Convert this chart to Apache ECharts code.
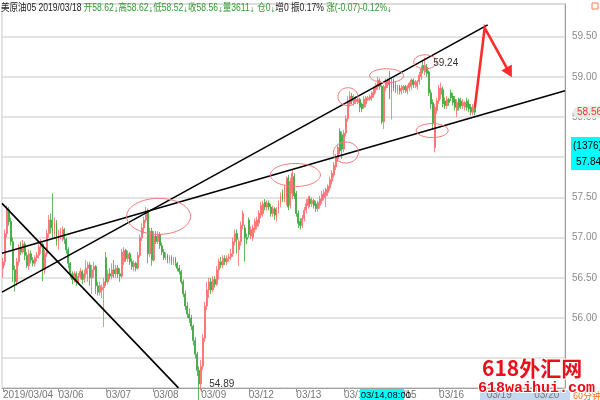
<!DOCTYPE html>
<html><head><meta charset="utf-8">
<script src="https://cdn.jsdelivr.net/npm/echarts@6/dist/echarts.min.js"></script>
<style>html,body{margin:0;padding:0;background:#fff}#c{width:600px;height:400px}</style>
</head><body><div id="c"></div><script>
// ---- data ----
const days = ['2019/03/04','03/05','03/06','03/07','03/08','03/09','03/12','03/13','03/14','03/15','03/16','03/19','03/20'];
const barsPerDay = [4,24,24,24,24,24,24,24,24,24,24,24,16];
const priceLabels = ['56.00','56.50','57.00','57.50','58.00','58.50','59.00','59.50'];
// [open, close, low, high] per 60-minute bar
const candles = [
[56.62,56.70,56.50,56.75],[56.70,57.05,56.65,57.10],[57.05,57.35,57.00,57.40],[57.35,57.20,57.15,57.38],
[57.20,56.95,56.90,57.25],[56.95,56.60,56.45,57.00],[56.60,56.45,56.33,56.65],[56.45,56.70,56.40,56.75],
[56.70,56.88,56.65,56.92],[56.88,56.82,56.78,56.95],[56.82,56.92,56.80,56.97],[56.92,56.78,56.72,56.95],
[56.78,56.65,56.62,56.82],[56.65,56.80,56.60,56.85],[56.80,56.72,56.68,56.84],[56.72,56.68,56.64,56.76],
[56.68,56.75,56.64,56.78],[56.75,56.78,56.70,56.82],[56.78,56.88,56.74,56.92],[56.88,56.92,56.80,56.98],
[56.92,56.60,56.46,56.94],[56.60,56.80,56.55,56.85],[56.80,57.05,56.76,57.10],[57.05,57.22,57.00,57.28],
[57.22,57.12,57.05,57.30],[57.12,57.05,56.98,57.55],[57.05,57.18,57.00,57.25],[57.18,56.95,56.90,57.22],
[56.95,57.05,56.85,57.10],[57.05,57.08,56.98,57.12],[57.00,57.10,56.95,57.14],[57.10,56.98,56.92,57.12],
[56.98,56.85,56.80,57.00],[56.85,56.68,56.62,56.88],[56.68,56.55,56.50,56.70],[56.55,56.48,56.42,56.58],
[56.48,56.55,56.44,56.58],[56.55,56.45,56.40,56.58],[56.45,56.52,56.42,56.56],[56.52,56.58,56.48,56.62],
[56.58,56.48,56.42,56.60],[56.48,56.55,56.44,56.60],[56.55,56.62,56.50,56.72],[56.62,56.66,56.45,56.70],
[56.66,56.50,56.40,56.70],[56.50,56.60,56.30,56.66],[56.60,56.64,56.50,56.70],[56.64,56.40,56.30,56.66],
[56.40,56.32,56.28,56.45],[56.32,56.40,56.28,56.45],[56.35,56.38,56.25,56.42],[56.38,56.45,55.89,56.50],
[56.75,56.45,56.40,56.82],[56.45,56.55,56.42,56.60],[56.55,56.52,56.48,56.62],[56.52,56.60,56.48,56.68],
[56.60,56.55,56.50,56.72],[56.55,56.62,56.50,56.66],[56.62,56.55,56.50,56.66],[56.55,56.52,56.45,56.62],
[56.52,56.82,56.50,56.86],[56.70,56.84,56.66,56.88],[56.84,56.74,56.70,56.86],[56.74,56.80,56.70,56.84],
[56.80,56.70,56.66,56.82],[56.70,56.64,56.60,56.74],[56.64,56.68,56.58,56.72],[56.68,56.62,56.58,56.70],
[56.62,56.78,56.60,56.82],[56.78,57.00,56.75,57.04],[57.00,57.12,56.96,57.18],[57.12,57.22,57.05,57.26],
[57.22,57.33,57.18,57.38],[57.32,56.80,56.68,57.36],[56.80,57.08,56.76,57.12],[57.08,56.72,56.65,57.12],
[56.72,57.02,56.70,57.08],[57.02,56.95,56.92,57.08],[56.95,57.04,56.92,57.08],[57.04,56.90,56.86,57.07],
[56.90,56.82,56.78,56.94],[56.82,56.75,56.72,56.86],[56.75,56.78,56.72,56.82],[56.78,56.72,56.68,56.80],
[56.72,56.76,56.68,56.78],[56.76,56.70,56.66,56.78],[56.70,56.74,56.66,56.76],[56.74,56.68,56.64,56.76],
[56.68,56.62,56.58,56.70],[56.62,56.58,56.54,56.66],[56.58,56.45,56.42,56.60],[56.45,56.30,56.26,56.48],
[56.30,56.15,56.10,56.34],[56.15,56.05,56.00,56.20],[56.05,56.00,55.94,56.12],[56.00,55.90,55.85,56.04],
[55.90,55.72,55.66,55.92],[55.72,55.55,55.50,55.76],[55.55,55.35,55.28,55.58],[55.35,55.18,54.89,55.40],
[55.18,55.40,55.10,55.48],[55.40,55.75,55.35,55.80],[55.75,56.15,55.70,56.20],[56.15,56.35,56.10,56.45],
[56.35,56.45,56.25,56.50],[56.45,56.35,56.30,56.50],[56.35,56.48,56.32,56.52],[56.48,56.42,56.38,56.52],
[56.42,56.60,56.40,56.65],[56.60,56.70,56.48,56.74],[56.70,56.66,56.62,56.76],[56.66,56.74,56.62,56.78],
[56.74,56.70,56.66,56.78],[56.70,56.74,56.66,56.78],[56.74,56.76,56.70,56.80],[56.76,56.80,56.72,56.86],
[56.80,56.95,56.76,57.00],[56.95,57.05,56.90,57.10],[57.05,56.98,56.80,57.10],[56.85,56.95,56.65,56.98],
[56.95,57.15,56.90,57.20],[57.15,57.30,57.10,57.34],[57.12,57.00,56.70,57.16],[57.00,56.98,56.92,57.05],
[57.22,57.04,57.00,57.25],[57.02,57.10,56.98,57.14],[57.00,57.12,56.96,57.16],[57.10,57.20,57.06,57.24],
[57.14,57.22,57.10,57.26],[57.18,57.30,57.14,57.34],[57.28,57.40,57.24,57.44],[57.30,57.42,57.26,57.46],
[57.44,57.38,57.34,57.48],[57.38,57.43,57.34,57.46],[57.43,57.38,57.34,57.46],[57.38,57.30,57.26,57.42],
[57.30,57.36,57.26,57.40],[57.36,57.28,57.22,57.38],[57.24,57.34,57.20,57.38],[57.34,57.42,57.30,57.46],
[57.42,57.52,57.38,57.56],[57.55,57.48,57.44,57.60],[57.48,57.62,57.44,57.66],[57.50,57.72,57.40,57.76],
[57.74,57.38,57.34,57.78],[57.40,57.70,57.36,57.74],[57.55,57.80,57.48,57.85],[57.76,57.52,57.48,57.80],
[57.55,57.30,57.26,57.58],[57.30,57.18,57.12,57.34],[57.20,57.15,57.10,57.24],[57.15,57.24,57.12,57.28],
[57.24,57.34,57.20,57.38],[57.34,57.42,57.30,57.48],[57.40,57.48,57.36,57.52],[57.48,57.42,57.38,57.52],
[57.42,57.46,57.38,57.50],[57.46,57.40,57.36,57.48],[57.42,57.36,57.32,57.46],[57.36,57.44,57.32,57.46],
[57.40,57.48,57.36,57.52],[57.46,57.54,57.42,57.58],[57.50,57.56,57.46,57.60],[57.52,57.60,57.38,57.62],
[57.56,57.64,57.52,57.66],[57.62,57.72,57.58,57.76],[57.70,57.80,57.66,57.84],[57.78,57.90,57.74,57.94],
[57.88,58.00,57.84,58.04],[57.98,58.12,57.94,58.16],[58.32,58.08,58.04,58.36],[58.28,58.10,57.98,58.32],
[58.10,58.30,58.06,58.34],[58.30,58.48,58.26,58.52],[58.48,58.70,58.44,58.76],[58.66,58.76,58.62,58.82],
[58.76,58.70,58.66,58.80],[58.68,58.74,58.64,58.78],[58.70,58.72,58.66,58.76],[58.68,58.72,58.66,58.74],
[58.72,58.62,58.56,58.74],[58.66,58.60,58.56,58.68],[58.62,58.72,58.60,58.76],[58.66,58.74,58.62,58.76],
[58.72,58.74,58.70,58.76],[58.72,58.76,58.70,58.78],[58.74,58.80,58.70,58.82],[58.78,58.86,58.74,58.88],
[58.84,58.90,58.80,58.92],[58.88,58.96,58.84,59.00],[58.94,58.88,58.84,58.98],[58.88,58.44,58.41,58.90],
[58.44,58.88,58.35,58.90],[58.86,58.94,58.82,58.98],[58.90,58.96,58.86,58.98],[58.98,58.80,58.72,59.07],
[58.80,58.96,58.47,59.00],[58.96,58.86,58.82,58.98],[58.90,58.84,58.80,58.94],[58.82,58.88,58.78,58.90],
[58.88,58.82,58.78,58.90],[58.82,58.86,58.78,58.90],[58.84,58.88,58.80,58.90],[58.88,58.84,58.80,58.90],
[58.82,58.88,58.78,58.90],[58.86,58.92,58.82,58.94],[58.88,58.96,58.84,58.98],[58.96,58.90,58.86,58.98],
[58.90,58.94,58.86,58.96],[58.88,58.94,58.84,58.96],[58.94,59.02,58.90,59.06],[59.00,59.10,58.96,59.14],
[59.14,59.08,59.04,59.21],[59.06,59.14,59.02,59.24],[59.12,59.04,59.00,59.16],[59.06,58.80,58.76,59.08],
[58.80,58.66,58.60,58.84],[58.68,58.42,58.35,58.72],[58.12,58.62,58.06,58.66],[58.58,58.70,58.54,58.74],
[58.70,58.86,58.66,58.90],[58.78,58.86,58.72,58.93],[58.84,58.66,58.62,58.88],[58.70,58.64,58.60,58.74],
[58.64,58.72,58.60,58.76],[58.72,58.68,58.64,58.74],[58.80,58.74,58.70,58.84],[58.76,58.68,58.64,58.80],
[58.72,58.62,58.58,58.76],[58.58,58.68,58.50,58.72],[58.72,58.62,58.58,58.74],[58.70,58.64,58.60,58.74],
[58.64,58.68,58.60,58.72],[58.62,58.68,58.58,58.70],[58.70,58.62,58.58,58.74],[58.66,58.60,58.56,58.72],
[58.62,58.56,58.52,58.66],[58.56,58.62,58.52,58.66],[58.62,58.56,58.52,58.62]
];
const highLabel = {index: 213, value: 59.24};
const lowLabel = {index: 99, value: 54.89};
const lastPrice = 58.56;
const crossPrice = 57.84, crossCount = '(1376)', crossTime = '03/14,08:00';
// drawn annotations, in [bar index, price]
const trendLines = [
  [[-0.5,57.426],[88.5,55.132]],
  [[-0.5,56.322],[244.5,59.645]],
  [[-0.5,56.806],[283.5,58.827]]
];
const ellipses = [[78.5,57.264],[147.5,57.779],[173,58.058],[174,58.752],[193.5,59.013],[213,59.186],[216.5,58.331]];
const ellipseR = [[32,18],[25,11.5],[12.5,10.5],[10,9],[17,7],[11.5,7],[16,7]];
const arrowPath = [[238,58.616],[243,59.608],[255.5,59.05]];

// ---- build ----
const categories = [];
const firstOfDay = new Set();
let lastShown = -100;
days.forEach((d, k) => {
  const start = categories.length;
  if (start - lastShown >= 20) { firstOfDay.add(start); lastShown = start; }
  for (let j = 0; j < barsPerDay[k]; j++) categories.push(d + '|' + j);
});
const showIdx = (i) => firstOfDay.has(i);

const NARROW = "'Liberation Sans Narrow','Liberation Sans',Arial,sans-serif";
const chart = echarts.init(document.getElementById('c'), null, {renderer: 'canvas'});
chart.setOption({
  animation: false,
  backgroundColor: '#fff',
  grid: {left: 2, right: 30, top: 4, bottom: 11, show: true, borderColor: '#c8c8c8', borderWidth: 1},
  xAxis: {
    type: 'category', data: categories, boundaryGap: true,
    axisLine: {lineStyle: {color: '#a0a0a0'}},
    axisTick: {show: true, interval: showIdx, alignWithLabel: true, length: 4, lineStyle: {color: '#999'}},
    axisLabel: {interval: showIdx, align: 'left', color: '#777', fontSize: 10, fontFamily: NARROW, margin: 2,
      formatter: v => v.split('|')[0]},
    splitLine: {show: false}
  },
  yAxis: {
    type: 'value', position: 'right', min: 55.13, max: 59.905, splitNumber: 10,
    axisLine: {show: true, lineStyle: {color: '#a0a0a0'}},
    axisTick: {show: false},
    axisLabel: {color: '#8a8a8a', fontSize: 10, fontFamily: NARROW, margin: 7, showMinLabel: false, showMaxLabel: false,
      formatter: v => priceLabels.includes(v.toFixed(2)) ? v.toFixed(2) : ''},
    splitLine: {lineStyle: {color: '#dadada', width: 1.5}}
  },
  series: [{
    type: 'candlestick', data: candles, barWidth: '70%', clip: true,
    itemStyle: {color: '#ff5a5a', color0: '#1c9a1c', borderColor: '#ff6a6a', borderColor0: '#3aa83a', borderWidth: 0.8}
  }]
});

function px(i, p) {
  const x0 = chart.convertToPixel({xAxisIndex: 0}, 0);
  const x1 = chart.convertToPixel({xAxisIndex: 0}, 1);
  return [x0 + (x1 - x0) * i, chart.convertToPixel({yAxisIndex: 0}, p)];
}
const g = [];
trendLines.forEach(l => {
  const a = px(l[0][0], l[0][1]), b = px(l[1][0], l[1][1]);
  g.push({type: 'line', shape: {x1: a[0], y1: a[1], x2: b[0], y2: b[1]}, style: {stroke: '#000', lineWidth: 1.6}, z: 10});
});
ellipses.forEach((e, k) => {
  const c = px(e[0], e[1]);
  g.push({type: 'ellipse', shape: {cx: c[0], cy: c[1], rx: ellipseR[k][0], ry: ellipseR[k][1]}, style: {fill: null, stroke: '#f07a7a', lineWidth: 1}, z: 10});
});
// red arrow
const ap = arrowPath.map(q => px(q[0], q[1]));
g.push({type: 'polyline', shape: {points: ap}, style: {stroke: '#ff2a2a', lineWidth: 2.6, fill: null, lineJoin: 'miter'}, z: 11});
(function () {
  const a = ap[1], b = ap[2];
  let dx = b[0] - a[0], dy = b[1] - a[1]; const L = Math.hypot(dx, dy); dx /= L; dy /= L;
  const tip = [b[0] + dx * 5, b[1] + dy * 5], base = [b[0] - dx * 6, b[1] - dy * 6];
  g.push({type: 'polygon', shape: {points: [tip, [base[0] - dy * 6, base[1] + dx * 6], [base[0] + dy * 6, base[1] - dx * 6]]}, style: {fill: '#ff2a2a'}, z: 11});
})();
// high / low labels
const hp = px(highLabel.index, highLabel.value);
g.push({type: 'text', x: hp[0] + 8, y: hp[1] + 6, style: {text: highLabel.value.toFixed(2), fill: '#333', font: '10px ' + NARROW, verticalAlign: 'middle'}, z: 12});
const lp = px(lowLabel.index, lowLabel.value);
g.push({type: 'text', x: lp[0] + 10, y: 384, style: {text: lowLabel.value.toFixed(2), fill: '#333', font: '10px ' + NARROW, verticalAlign: 'middle'}, z: 12});
// right badges
const yl = px(0, lastPrice)[1];
g.push({type: 'rect', shape: {x: 573, y: yl - 6, width: 27, height: 12, r: [6, 0, 0, 6]}, style: {fill: '#e4eee4'}, z: 12});
g.push({type: 'text', x: 577, y: yl, style: {text: lastPrice.toFixed(2), fill: '#ff3030', font: '10px ' + NARROW, verticalAlign: 'middle'}, z: 13});
const yc = px(0, crossPrice)[1];
g.push({type: 'rect', shape: {x: 571, y: yc - 33, width: 29, height: 33}, style: {fill: '#00ffff'}, z: 12});
g.push({type: 'text', x: 573, y: yc - 24, style: {text: crossCount, fill: '#000', font: '10px ' + NARROW, verticalAlign: 'middle'}, z: 13});
g.push({type: 'text', x: 576, y: yc - 8, style: {text: crossPrice.toFixed(2), fill: '#000', font: '10px ' + NARROW, verticalAlign: 'middle'}, z: 13});
// bottom cross time box
const xt = px(180, 0)[0];
g.push({type: 'rect', shape: {x: xt, y: 389, width: 44, height: 11}, style: {fill: '#00ffff'}, z: 12});
g.push({type: 'text', x: xt + 1, y: 395, style: {text: crossTime, fill: '#000', font: '9.5px ' + NARROW, verticalAlign: 'middle'}, z: 13});
// future band
g.push({type: 'rect', shape: {x: 480, y: 390, width: 90, height: 10}, style: {fill: '#c4d9f0'}, z: 0});
g.push({type: 'text', x: 573, y: 396, style: {text: '60分钟', fill: '#f07020', font: '9px "Noto Sans CJK SC"', verticalAlign: 'middle'}, z: 12});
// top-right icon
g.push({type: 'rect', shape: {x: 592, y: 3, width: 6, height: 6}, style: {fill: null, stroke: '#f08050', lineWidth: 1}, z: 12});
// title line
g.push({type: 'text', x: 1, y: 8, scaleX: 0.815, style: {
  text: '{k|美原油05 2019/03/18 }{g|开58.62}{a|↓}{g|高58.62}{a|↓}{g|低58.52}{a|↓}{g|收58.56}{a|↓}{g|量3611}{a|↓} {g|仓0}{a|↓}{k|增0 振0.17% }{g|涨(-0.07)-0.12%}{a|↓}',
  verticalAlign: 'middle',
  rich: {
    k: {fill: '#222', font: "10.5px 'Liberation Sans','Noto Sans CJK SC',sans-serif"},
    g: {fill: '#2f9a2f', font: "10.5px 'Liberation Sans','Noto Sans CJK SC',sans-serif"},
    a: {fill: '#2f9a2f', font: "7px 'DejaVu Sans',sans-serif", verticalAlign: 'bottom'}
  }}, z: 12});
// watermark
g.push({type: 'text', x: 482, y: 368, style: {text: '618外汇网', fill: '#e8101a', stroke: '#fff', lineWidth: 2, font: 'bold 21px "Noto Sans CJK SC"', verticalAlign: 'middle'}, z: 14});
g.push({type: 'text', x: 478, y: 388, style: {text: '618waihui.com', fill: '#e8101a', stroke: '#fff', lineWidth: 2, font: 'bold 15px "Liberation Mono"', verticalAlign: 'middle'}, z: 14});
chart.setOption({graphic: g});
</script></body></html>
